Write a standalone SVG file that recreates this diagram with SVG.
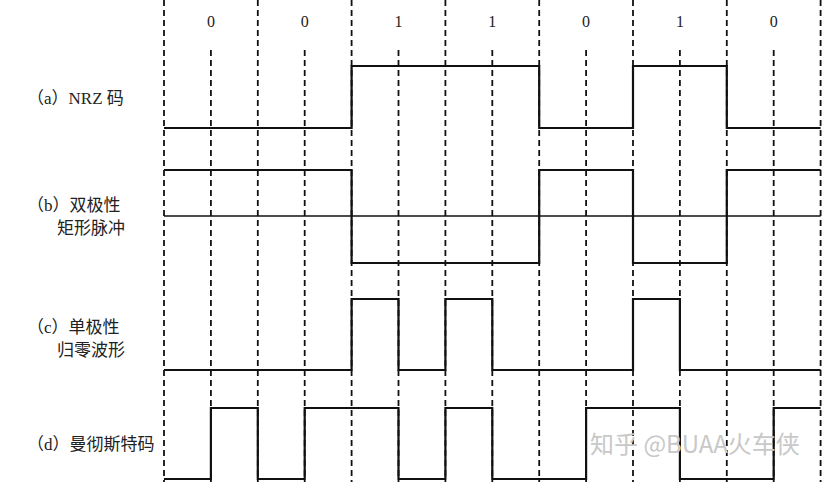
<svg xmlns="http://www.w3.org/2000/svg" width="826" height="482" viewBox="0 0 826 482">
<style>
.grid{stroke:#111;stroke-width:1.8;stroke-dasharray:6 4;fill:none}
.wave{stroke:#111;stroke-width:2.2;fill:none;stroke-linejoin:miter}
.axis{stroke:#111;stroke-width:1.3;fill:none}
.lbl{font-family:"Liberation Serif","Noto Sans CJK SC",serif;font-size:17px;fill:#222}
.bit{font-family:"Liberation Serif",serif;font-size:16px;fill:#222;text-anchor:middle}
.wm{font-family:"Noto Sans CJK SC","Noto Sans",sans-serif;font-size:24px;fill:#c8c8c8}
</style>
<rect width="826" height="482" fill="#fff"/>
<g id="connectors">
<g id="bit-boundaries">
<line class="grid" x1="164" y1="0" x2="164" y2="482"/>
<line class="grid" x1="257.8" y1="0" x2="257.8" y2="482"/>
<line class="grid" x1="351.6" y1="0" x2="351.6" y2="482"/>
<line class="grid" x1="445.4" y1="0" x2="445.4" y2="482"/>
<line class="grid" x1="539.2" y1="0" x2="539.2" y2="482"/>
<line class="grid" x1="633" y1="0" x2="633" y2="482"/>
<line class="grid" x1="726.8" y1="0" x2="726.8" y2="482"/>
<line class="grid" x1="820.6" y1="0" x2="820.6" y2="482"/>
</g>
<g id="bit-centres">
<line class="grid" x1="210.9" y1="50" x2="210.9" y2="482"/>
<line class="grid" x1="304.7" y1="50" x2="304.7" y2="482"/>
<line class="grid" x1="398.5" y1="50" x2="398.5" y2="482"/>
<line class="grid" x1="492.3" y1="50" x2="492.3" y2="482"/>
<line class="grid" x1="586.1" y1="50" x2="586.1" y2="482"/>
<line class="grid" x1="679.9" y1="50" x2="679.9" y2="482"/>
<line class="grid" x1="773.7" y1="50" x2="773.7" y2="482"/>
</g>
</g>
<g id="bits">
<text class="bit" x="210.9" y="27">0</text>
<text class="bit" x="304.7" y="27">0</text>
<text class="bit" x="398.5" y="27">1</text>
<text class="bit" x="492.3" y="27">1</text>
<text class="bit" x="586.1" y="27">0</text>
<text class="bit" x="679.9" y="27">1</text>
<text class="bit" x="773.7" y="27">0</text>
</g>
<g id="nrz">
<text class="lbl" x="27" y="104">（a）NRZ 码</text>
<polyline class="wave" points="164,128 351.6,128 351.6,66 539.2,66 539.2,128 633,128 633,66 726.8,66 726.8,128 820.6,128"/>
</g>
<g id="bipolar">
<text class="lbl" x="27" y="211">（b）双极性</text>
<text class="lbl" x="57" y="234">矩形脉冲</text>
<line class="axis" x1="164" y1="216" x2="820.6" y2="216"/>
<polyline class="wave" points="164,170 351.6,170 351.6,263 539.2,263 539.2,170 633,170 633,263 726.8,263 726.8,170 820.6,170"/>
</g>
<g id="unipolar-rz">
<text class="lbl" x="27" y="333">（c）单极性</text>
<text class="lbl" x="57" y="356">归零波形</text>
<polyline class="wave" points="164,370 351.6,370 351.6,299 398.5,299 398.5,370 445.4,370 445.4,299 492.3,299 492.3,370 633,370 633,299 679.9,299 679.9,370 820.6,370"/>
</g>
<g id="manchester">
<text class="lbl" x="27" y="450">（d）曼彻斯特码</text>
<polyline class="wave" points="164,479 210.9,479 210.9,408 257.8,408 257.8,479 304.7,479 304.7,408 398.5,408 398.5,479 445.4,479 445.4,408 492.3,408 492.3,479 586.1,479 586.1,408 679.9,408 679.9,479 773.7,479 773.7,408 820.6,408"/>
</g>
<text class="wm" x="590" y="453">知乎 @BUAA火车侠</text>
</svg>
